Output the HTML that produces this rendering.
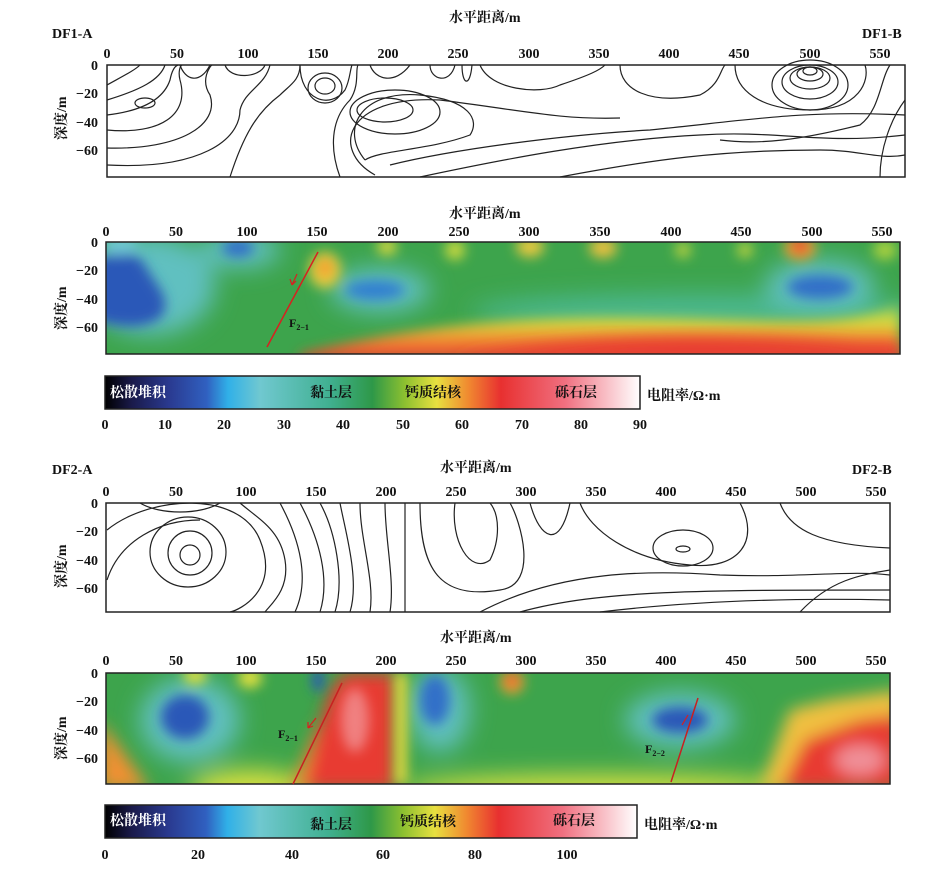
<!DOCTYPE html>
<html><head><meta charset="utf-8"><style>
html,body{margin:0;padding:0;background:#fff}
svg{display:block}
text{font-family:"Liberation Serif","Noto Serif CJK SC",serif;font-weight:bold;fill:#111}
.t{font-size:14px}
.c{font-family:"Liberation Serif","Noto Serif CJK SC",serif;font-size:14px;font-weight:bold}
.ct path,.ct ellipse{fill:none;stroke:#222;stroke-width:1.2}
</style></head><body>
<svg width="946" height="871" viewBox="0 0 946 871" xmlns="http://www.w3.org/2000/svg">
<defs>
<filter id="b8" x="-50%" y="-50%" width="200%" height="200%"><feGaussianBlur stdDeviation="8"/></filter>
<filter id="b5" x="-50%" y="-50%" width="200%" height="200%"><feGaussianBlur stdDeviation="6"/></filter>
<filter id="b12" x="-50%" y="-50%" width="200%" height="200%"><feGaussianBlur stdDeviation="12"/></filter>
<linearGradient id="cb" x1="0" x2="1" y1="0" y2="0">
<stop offset="0" stop-color="#000"/><stop offset="0.05" stop-color="#1a1a4a"/><stop offset="0.12" stop-color="#2a3a90"/>
<stop offset="0.19" stop-color="#3060c0"/><stop offset="0.23" stop-color="#30b0e8"/><stop offset="0.29" stop-color="#70c8d0"/>
<stop offset="0.42" stop-color="#40b090"/><stop offset="0.5" stop-color="#2e9848"/><stop offset="0.56" stop-color="#8cc030"/>
<stop offset="0.62" stop-color="#e8e040"/><stop offset="0.68" stop-color="#f08830"/><stop offset="0.74" stop-color="#e83030"/>
<stop offset="0.86" stop-color="#f07080"/><stop offset="1" stop-color="#fff"/></linearGradient>
<linearGradient id="bot1" x1="0" x2="0" y1="0" y2="1">
<stop offset="0" stop-color="#e0e040" stop-opacity="0"/><stop offset="0.35" stop-color="#d8e040"/><stop offset="0.65" stop-color="#f09030"/><stop offset="1" stop-color="#e83030"/></linearGradient>
<clipPath id="p2"><rect x="106" y="242" width="794" height="112"/></clipPath>
<clipPath id="p4"><rect x="106" y="673" width="784" height="111"/></clipPath>
</defs>

<!-- ===== Panel 1 ===== -->
<text x="52" y="38" class="t">DF1-A</text><text x="862" y="38" class="t">DF1-B</text>
<text x="449" y="22" class="c">水平距离/m</text>
<g class="t" text-anchor="middle">
<text x="107" y="58">0</text><text x="177" y="58">50</text><text x="248" y="58">100</text><text x="318" y="58">150</text><text x="388" y="58">200</text><text x="458" y="58">250</text><text x="529" y="58">300</text><text x="599" y="58">350</text><text x="669" y="58">400</text><text x="739" y="58">450</text><text x="810" y="58">500</text><text x="880" y="58">550</text>
</g>
<g class="t" text-anchor="end"><text x="98" y="70">0</text><text x="98" y="98">−20</text><text x="98" y="127">−40</text><text x="98" y="155">−60</text></g>
<text class="c" transform="translate(66,140) rotate(-90)">深度/m</text>
<g class="ct">
<path d="M107,85 C125,75 135,70 140,65"/><path d="M107,100 C140,90 160,80 165,65"/>
<path d="M107,115 C150,110 165,95 170,80 C172,70 175,66 178,65"/>
<path d="M107,130 C160,135 190,115 180,80 C178,72 180,66 182,65"/>
<path d="M107,148 C180,150 220,125 210,95 C200,80 210,66 212,65"/>
<path d="M107,165 C200,170 240,140 240,110 C245,90 265,86 270,65"/>
<path d="M230,177 C245,130 260,110 280,95 C290,85 300,80 300,65"/>
<ellipse cx="145" cy="103" rx="10" ry="5"/>
<path d="M180,65 C185,80 200,85 210,65"/><path d="M225,65 C230,80 260,78 265,65"/>
<ellipse cx="325" cy="88" rx="17" ry="15"/><ellipse cx="325" cy="86" rx="10" ry="8"/>
<path d="M300,65 C300,100 330,110 345,90 C350,80 350,70 352,65"/>
<path d="M340,177 C330,150 330,120 350,100 C360,85 355,70 358,65"/>
<ellipse cx="385" cy="110" rx="28" ry="12"/><ellipse cx="395" cy="112" rx="45" ry="22"/>
<path d="M365,160 C340,130 360,90 420,95 C470,100 480,120 470,135 C430,150 380,150 365,160"/>
<path d="M375,175 C330,150 345,95 440,100 C520,110 560,120 620,118"/>
<path d="M420,177 C500,160 600,140 700,135 C780,130 820,145 905,135"/>
<path d="M390,165 C450,150 560,135 650,130 C750,120 800,110 905,115"/>
<path d="M560,177 C650,160 720,150 820,150 C860,150 880,160 905,155"/>
<path d="M370,65 C375,80 395,85 410,65"/><path d="M430,65 C430,80 450,85 455,65"/><path d="M462,65 C462,85 470,88 472,65"/>
<path d="M480,65 C490,90 540,95 560,85 C590,75 600,70 605,65"/>
<path d="M620,65 C620,90 650,105 700,95 C720,85 720,70 725,65"/>
<path d="M735,65 C735,90 760,110 810,110 C860,110 870,80 865,65"/>
<ellipse cx="810" cy="85" rx="38" ry="25"/><ellipse cx="810" cy="82" rx="28" ry="17"/><ellipse cx="810" cy="78" rx="20" ry="11"/><ellipse cx="810" cy="74" rx="13" ry="7"/><ellipse cx="810" cy="71" rx="7" ry="4"/>
<path d="M720,140 C760,145 800,140 860,125 C880,110 880,80 890,65"/>
<path d="M880,177 C880,150 890,120 905,100"/>
</g>
<rect x="107" y="65" width="798" height="112" fill="none" stroke="#222" stroke-width="1.5"/>

<!-- ===== Panel 2 ===== -->
<text x="449" y="218" class="c">水平距离/m</text>
<g class="t" text-anchor="middle">
<text x="106" y="236">0</text><text x="176" y="236">50</text><text x="247" y="236">100</text><text x="317" y="236">150</text><text x="388" y="236">200</text><text x="459" y="236">250</text><text x="529" y="236">300</text><text x="600" y="236">350</text><text x="671" y="236">400</text><text x="741" y="236">450</text><text x="812" y="236">500</text><text x="882" y="236">550</text>
</g>
<g class="t" text-anchor="end"><text x="98" y="247">0</text><text x="98" y="275">−20</text><text x="98" y="304">−40</text><text x="98" y="332">−60</text></g>
<text class="c" transform="translate(66,330) rotate(-90)">深度/m</text>
<g clip-path="url(#p2)">
<rect x="100" y="236" width="810" height="125" fill="#3da44c"/>
<g filter="url(#b12)">
<ellipse cx="150" cy="285" rx="65" ry="50" fill="#60c0c0"/>
<ellipse cx="700" cy="312" rx="230" ry="18" fill="#4cb890"/>
<ellipse cx="240" cy="250" rx="40" ry="18" fill="#60c0c0"/>
<ellipse cx="380" cy="290" rx="50" ry="22" fill="#60c0c0"/>
<ellipse cx="820" cy="285" rx="55" ry="25" fill="#60c0c0"/>
</g>
<path d="M300,354 C400,330 500,315 650,318 C780,320 860,330 900,300 L900,360 L300,360Z" fill="url(#bot1)" filter="url(#b5)"/>
<path d="M450,360 C560,338 700,330 860,345 L900,345 L900,360Z" fill="#e83a30" filter="url(#b8)"/>
<g filter="url(#b5)">
<path d="M95,260 C120,250 135,250 145,265 C155,285 175,300 160,318 C140,332 110,325 95,320Z" fill="#2a58b8"/>
<ellipse cx="120" cy="245" rx="18" ry="10" fill="#70c8d0"/>
<ellipse cx="238" cy="248" rx="16" ry="9" fill="#3070c8"/>
<ellipse cx="375" cy="290" rx="30" ry="10" fill="#3080d0"/>
<ellipse cx="820" cy="287" rx="33" ry="12" fill="#3070c8"/>
<ellipse cx="325" cy="270" rx="16" ry="18" fill="#e8d040"/>
<ellipse cx="325" cy="268" rx="9" ry="10" fill="#f0a030"/>
<ellipse cx="387" cy="247" rx="10" ry="8" fill="#d8d840"/>
<ellipse cx="455" cy="250" rx="10" ry="10" fill="#c8d840"/>
<ellipse cx="530" cy="247" rx="14" ry="10" fill="#e8c840"/>
<ellipse cx="603" cy="248" rx="14" ry="10" fill="#e8c040"/>
<ellipse cx="683" cy="250" rx="8" ry="8" fill="#b8d040"/>
<ellipse cx="745" cy="250" rx="8" ry="8" fill="#b8d040"/>
<ellipse cx="800" cy="248" rx="16" ry="12" fill="#f0a030"/>
<ellipse cx="800" cy="246" rx="8" ry="7" fill="#e83030"/>
<ellipse cx="885" cy="250" rx="12" ry="10" fill="#a8d040"/>
</g>
</g>
<rect x="106" y="242" width="794" height="112" fill="none" stroke="#222" stroke-width="1.5"/>
<line x1="267" y1="347" x2="318" y2="252" stroke="#d82020" stroke-width="1.5"/>
<path d="M297,274 L292,285 M292,285 L290,279 M292,285 L296,281" stroke="#d82020" stroke-width="1.2" fill="none"/>
<text x="289" y="327" font-size="12">F<tspan font-size="8" dy="3">2−1</tspan></text>

<!-- colorbar 1 -->
<rect x="105" y="376" width="535" height="33" fill="url(#cb)" stroke="#222" stroke-width="1.5"/>
<g class="c"><text x="110" y="397" style="fill:#fff">松散堆积</text><text x="310" y="397">黏土层</text><text x="405" y="397">钙质结核</text><text x="555" y="397">砾石层</text></g>
<text x="647" y="400" class="c">电阻率/Ω·m</text>
<g class="t" text-anchor="middle"><text x="105" y="429">0</text><text x="165" y="429">10</text><text x="224" y="429">20</text><text x="284" y="429">30</text><text x="343" y="429">40</text><text x="403" y="429">50</text><text x="462" y="429">60</text><text x="522" y="429">70</text><text x="581" y="429">80</text><text x="640" y="429">90</text></g>

<!-- ===== Panel 3 ===== -->
<text x="52" y="474" class="t">DF2-A</text><text x="852" y="474" class="t">DF2-B</text>
<text x="440" y="472" class="c">水平距离/m</text>
<g class="t" text-anchor="middle">
<text x="106" y="496">0</text><text x="176" y="496">50</text><text x="246" y="496">100</text><text x="316" y="496">150</text><text x="386" y="496">200</text><text x="456" y="496">250</text><text x="526" y="496">300</text><text x="596" y="496">350</text><text x="666" y="496">400</text><text x="736" y="496">450</text><text x="806" y="496">500</text><text x="876" y="496">550</text>
</g>
<g class="t" text-anchor="end"><text x="98" y="508">0</text><text x="98" y="536">−20</text><text x="98" y="565">−40</text><text x="98" y="593">−60</text></g>
<text class="c" transform="translate(66,588) rotate(-90)">深度/m</text>
<g class="ct">
<ellipse cx="190" cy="555" rx="10" ry="10"/><ellipse cx="190" cy="553" rx="22" ry="22"/><ellipse cx="188" cy="552" rx="38" ry="35"/>
<path d="M107,530 C150,495 240,490 260,540 C280,590 240,610 230,612"/>
<path d="M107,580 C120,540 160,520 200,520"/>
<path d="M140,503 C160,515 200,515 220,503"/>
<path d="M240,503 C260,520 280,530 285,560 C290,590 270,605 265,612"/>
<path d="M280,503 C300,540 310,580 295,612"/>
<path d="M300,503 C320,540 330,580 320,612"/>
<path d="M320,503 C335,530 345,580 335,612"/>
<path d="M340,503 C345,530 360,580 350,612"/>
<path d="M360,503 C360,540 375,580 370,612"/>
<path d="M385,503 C385,540 395,580 390,612"/>
<path d="M405,503 L405,612"/>
<path d="M420,503 C420,570 440,600 500,590 C540,585 520,520 510,503"/>
<path d="M455,503 C450,540 470,575 490,560 C500,540 500,515 490,503"/>
<path d="M480,612 C560,570 650,570 720,575 C800,578 850,570 890,575"/>
<path d="M530,503 C540,540 560,550 570,503"/>
<path d="M520,612 C600,590 700,590 890,590"/>
<path d="M600,612 C700,600 800,598 890,600"/>
<path d="M580,503 C590,530 630,560 690,565 C740,570 760,540 740,503"/>
<ellipse cx="683" cy="549" rx="7" ry="3"/><ellipse cx="683" cy="548" rx="30" ry="18"/>
<path d="M780,503 C790,530 820,545 890,548"/>
<path d="M800,612 C830,580 860,575 890,570"/>
</g>
<rect x="106" y="503" width="784" height="109" fill="none" stroke="#222" stroke-width="1.5"/>

<!-- ===== Panel 4 ===== -->
<text x="440" y="642" class="c">水平距离/m</text>
<g class="t" text-anchor="middle">
<text x="106" y="665">0</text><text x="176" y="665">50</text><text x="246" y="665">100</text><text x="316" y="665">150</text><text x="386" y="665">200</text><text x="456" y="665">250</text><text x="526" y="665">300</text><text x="596" y="665">350</text><text x="666" y="665">400</text><text x="736" y="665">450</text><text x="806" y="665">500</text><text x="876" y="665">550</text>
</g>
<g class="t" text-anchor="end"><text x="98" y="678">0</text><text x="98" y="706">−20</text><text x="98" y="735">−40</text><text x="98" y="763">−60</text></g>
<text class="c" transform="translate(66,760) rotate(-90)">深度/m</text>
<g clip-path="url(#p4)">
<rect x="100" y="665" width="800" height="125" fill="#3da44c"/>
<g filter="url(#b12)">
<ellipse cx="190" cy="720" rx="50" ry="42" fill="#60c0c0"/>
<ellipse cx="440" cy="710" rx="30" ry="42" fill="#60c0c0"/>
<ellipse cx="680" cy="720" rx="55" ry="28" fill="#60c0c0"/>
<ellipse cx="600" cy="790" rx="200" ry="15" fill="#d8e040"/>
<ellipse cx="250" cy="790" rx="60" ry="20" fill="#d8e040"/>
</g>
<g filter="url(#b8)">
<path d="M100,720 L150,790 L100,790Z" fill="#f09030"/>
<path d="M300,790 L330,690 L345,673 L395,673 L395,790Z" fill="#e83a30"/>
<path d="M290,790 L320,720 L305,790Z" fill="#f09030"/>
<path d="M760,790 L790,710 L830,700 L900,690 L900,790Z" fill="#f0c040"/>
<path d="M780,790 L805,740 L860,720 L900,715 L900,790Z" fill="#e83a30"/>
<ellipse cx="860" cy="760" rx="25" ry="15" fill="#f09098"/>
</g>
<g filter="url(#b5)">
<rect x="395" y="673" width="12" height="111" fill="#e0e040"/>
<ellipse cx="355" cy="720" rx="14" ry="32" fill="#f08080"/>
<ellipse cx="185" cy="717" rx="24" ry="22" fill="#2a58b8"/>
<ellipse cx="435" cy="700" rx="15" ry="25" fill="#3070c8"/>
<ellipse cx="680" cy="720" rx="28" ry="13" fill="#2a58b8"/>
<ellipse cx="318" cy="680" rx="6" ry="12" fill="#2a58b8"/>
<ellipse cx="195" cy="676" rx="12" ry="8" fill="#e0e040"/>
<ellipse cx="250" cy="678" rx="12" ry="10" fill="#e0e040"/>
<ellipse cx="512" cy="682" rx="12" ry="12" fill="#f0a030"/>
<ellipse cx="512" cy="680" rx="7" ry="7" fill="#e86030"/>
</g>
</g>
<rect x="106" y="673" width="784" height="111" fill="none" stroke="#222" stroke-width="1.5"/>
<line x1="293" y1="784" x2="342" y2="683" stroke="#c82020" stroke-width="1.5"/>
<path d="M316,718 L308,728 M308,728 L308,722 M308,728 L313,726" stroke="#d82020" stroke-width="1.2" fill="none"/>
<text x="278" y="738" font-size="12">F<tspan font-size="8" dy="3">2−1</tspan></text>
<line x1="671" y1="782" x2="698" y2="698" stroke="#c82020" stroke-width="1.5"/>
<path d="M688,715 L682,725" stroke="#d82020" stroke-width="1.2"/>
<text x="645" y="753" font-size="12">F<tspan font-size="8" dy="3">2−2</tspan></text>

<!-- colorbar 2 -->
<rect x="105" y="805" width="532" height="33" fill="url(#cb)" stroke="#222" stroke-width="1.5"/>
<g class="c"><text x="110" y="825" style="fill:#fff">松散堆积</text><text x="310" y="829">黏土层</text><text x="400" y="826">钙质结核</text><text x="553" y="825">砾石层</text></g>
<text x="644" y="829" class="c">电阻率/Ω·m</text>
<g class="t" text-anchor="middle"><text x="105" y="859">0</text><text x="198" y="859">20</text><text x="292" y="859">40</text><text x="383" y="859">60</text><text x="475" y="859">80</text><text x="567" y="859">100</text></g>
</svg>
</body></html>
